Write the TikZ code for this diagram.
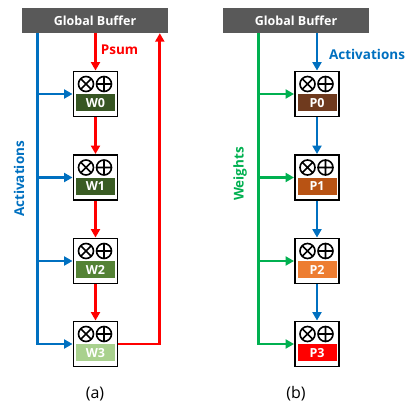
\documentclass[tikz,border=0pt]{standalone}
\usepackage{fontspec}
\setmainfont{Open Sans}
\usetikzlibrary{arrows.meta,calc}

\definecolor{bufgray}{HTML}{595959}
\definecolor{actblue}{HTML}{0070C0}
\definecolor{psumred}{HTML}{FF0000}
\definecolor{wgtgreen}{HTML}{00B050}
\definecolor{wA}{HTML}{375623}
\definecolor{wB}{HTML}{3A5C24}
\definecolor{wC}{HTML}{548235}
\definecolor{wD}{HTML}{A9D18E}
\definecolor{pA}{HTML}{6F3A1E}
\definecolor{pB}{HTML}{B85314}
\definecolor{pC}{HTML}{ED7D31}
\definecolor{pD}{HTML}{FF0000}

% one processing element: name, x, y, label, tag colour
\newcommand\drawpe[5]{%
  \node[pebox] (#1) at (#2,#3) {};
  \node[petag, fill=#5, anchor=north] (#1tag) at (#1.center) {#4};
  \draw[opline] (#2-9.5,#3-10) circle[radius=7.5]
    (#2-9.5-5.3,#3-10-5.3) -- (#2-9.5+5.3,#3-10+5.3)
    (#2-9.5-5.3,#3-10+5.3) -- (#2-9.5+5.3,#3-10-5.3);
  \draw[opline] (#2+8.5,#3-10) circle[radius=7.5]
    (#2+8.5-7.5,#3-10) -- (#2+8.5+7.5,#3-10)
    (#2+8.5,#3-10-7.5) -- (#2+8.5,#3-10+7.5);
}

\begin{document}
\begin{tikzpicture}[x=1pt,y=-1pt,
  buffer/.style={fill=bufgray, text=white, font=\bfseries\fontsize{12.5}{14}\selectfont,
    minimum width=146, minimum height=25, inner sep=0},
  pebox/.style={draw=black, line width=1.9pt, fill=white, minimum width=44, minimum height=45, inner sep=0},
  petag/.style={minimum width=39, minimum height=17, inner sep=0, text=white,
    font=\bfseries\fontsize{12.5}{14}\selectfont},
  opline/.style={line width=1.6pt, black},
  flow/.style={line width=2.8pt, -{Triangle[length=8.5pt,width=9pt]}},
  blueflow/.style={flow, actblue},
  redflow/.style={flow, psumred},
  greenflow/.style={flow, wgtgreen},
  caption/.style={font=\fontsize{16}{18}\selectfont},
  lbl/.style={font=\bfseries\fontsize{13.5}{15}\selectfont}
]
\useasboundingbox (0,0) rectangle (413,405);

% ---------- (a) weight stationary ----------
\node[buffer] (gbA) at (95,20.5) {Global Buffer};
\drawpe{W0}{95.5}{94}{W0}{wA}
\drawpe{W1}{95.5}{177.5}{W1}{wB}
\drawpe{W2}{95.5}{261}{W2}{wC}
\drawpe{W3}{95.5}{344}{W3}{wD}

\coordinate (actTop) at ($(gbA.south west)+(16,0)$);
\coordinate (retTop) at ($(gbA.south west)+(138,0)$);

\draw[blueflow] (actTop) |- (W3.west);
\foreach \n in {W0,W1,W2}
  \draw[blueflow] (actTop |- \n.west) -- (\n.west);

\draw[redflow] (gbA.south -| W0.north) -- (W0.north);
\draw[redflow] (W0.south) -- (W1.north);
\draw[redflow] (W1.south) -- (W2.north);
\draw[redflow] (W2.south) -- (W3.north);
\draw[redflow] (W3.east) -| (retTop);

\node[lbl, text=psumred] (psum) at (119.5,50) {Psum};
\node[lbl, text=actblue, rotate=90] (actA) at (19,179) {Activations};
\node[caption] (capA) at (95,394) {(a)};

% ---------- (b) output stationary ----------
\node[buffer] (gbB) at (296,20.5) {Global Buffer};
\drawpe{P0}{317}{94}{P0}{pA}
\drawpe{P1}{317}{177.5}{P1}{pB}
\drawpe{P2}{317}{261}{P2}{pC}
\drawpe{P3}{317}{344}{P3}{pD}

\coordinate (wgtTop) at ($(gbB.south west)+(36,0)$);

\draw[greenflow] (wgtTop) |- (P3.west);
\foreach \n in {P0,P1,P2}
  \draw[greenflow] (wgtTop |- \n.west) -- (\n.west);

\draw[blueflow] (gbB.south -| P0.north) -- (P0.north);
\draw[blueflow] (P0.south) -- (P1.north);
\draw[blueflow] (P1.south) -- (P2.north);
\draw[blueflow] (P2.south) -- (P3.north);

\node[lbl, text=actblue] (actB) at (367,54) {Activations};
\node[lbl, text=wgtgreen, rotate=90] (wgt) at (240,174) {Weights};
\node[caption] (capB) at (296,394) {(b)};
\end{tikzpicture}
\end{document}
